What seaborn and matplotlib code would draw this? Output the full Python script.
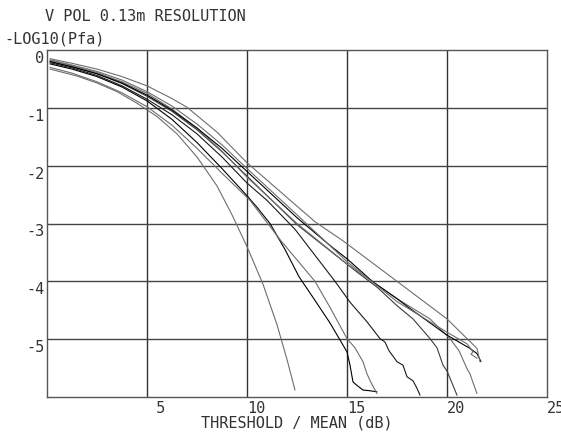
import seaborn as sns
import matplotlib
matplotlib.use('Agg')
import matplotlib.pyplot as plt
import pandas as pd

# curves: threshold/mean (dB) vs -log10(Pfa)
xa = [0.15, 1.5, 2.5, 3.5, 4.5, 5.5, 6.5, 7.5, 8.5, 9.25, 10, 10.8, 11.5, 12, 12.4]
ya = [-0.33, -0.45, -0.57, -0.72, -0.92, -1.15, -1.45, -1.85, -2.35, -2.85, -3.4,
      -4.05, -4.75, -5.35, -5.88]
xb = [0.15, 1.25, 2.5, 3.75, 5, 6.25, 7.5, 8.75, 10, 10.5, 11.15, 11.9, 12.6,
      13.4, 14.15, 15.0, 15.15, 15.3, 15.5, 15.8, 16.1, 16.5]
yb = [-0.24, -0.33, -0.46, -0.64, -0.88, -1.2, -1.6, -2.05, -2.52, -2.72, -3.0,
      -3.45, -3.92, -4.33, -4.72, -5.22, -5.45, -5.74, -5.8, -5.88, -5.89, -5.91]
xc = [0.15, 1.25, 2.5, 3.75, 5, 6.25, 7.5, 8.75, 10.15, 11.7, 13.4, 14.15, 15,
      15.4, 15.8, 16.0, 16.2, 16.5]
yc = [-0.3, -0.4, -0.55, -0.74, -0.98, -1.3, -1.7, -2.13, -2.6, -3.3, -4.0,
      -4.45, -4.99, -5.15, -5.39, -5.6, -5.75, -5.94]
xd = [0.15, 1.25, 2.5, 3.75, 5, 6.25, 7.5, 8.75, 10, 11, 12.4, 13.4, 14.4, 15.15,
      16.0, 16.65, 16.9, 17.1, 17.5, 17.8, 18.0, 18.3, 18.5, 18.65]
yd = [-0.22, -0.31, -0.44, -0.62, -0.85, -1.12, -1.45, -1.85, -2.3, -2.6, -3.1,
      -3.55, -4.0, -4.36, -4.7, -4.99, -5.05, -5.2, -5.39, -5.45, -5.65, -5.72,
      -5.85, -5.97]
xe = [0.15, 1.25, 2.5, 3.75, 5, 6.25, 7.5, 8.75, 10, 12.5, 15.5, 16.5, 17.5,
      18.3, 19.15, 19.5, 19.8, 20.0, 20.3, 20.5]
ye = [-0.2, -0.29, -0.41, -0.58, -0.8, -1.06, -1.38, -1.76, -2.18, -3.02, -3.84,
      -4.1, -4.42, -4.65, -4.99, -5.15, -5.45, -5.55, -5.8, -5.97]
xf = [0.15, 1.25, 2.5, 3.75, 5, 6.25, 7.5, 8.75, 10, 12.5, 15, 17.5, 19.15,
      20.15, 20.6, 21.0, 21.15, 21.3, 21.5]
yf = [-0.18, -0.27, -0.39, -0.55, -0.75, -1.02, -1.35, -1.75, -2.2, -3.0, -3.7,
      -4.3, -4.65, -4.99, -5.2, -5.51, -5.6, -5.75, -5.94]
xg = [0.15, 1.25, 2.5, 3.75, 5, 6.25, 7.5, 8.75, 10, 12.5, 14.15, 15, 16.3, 17.5,
      18.15, 20, 21.15, 21.5, 21.7]
yg = [-0.2, -0.29, -0.41, -0.57, -0.78, -1.04, -1.35, -1.7, -2.1, -2.9, -3.38,
      -3.61, -4.01, -4.3, -4.47, -4.93, -5.16, -5.25, -5.39]
xg2 = [0.15, 1.25, 2.5, 3.75, 5, 6.25, 7.5, 8.75, 10, 12.5, 15, 17.5, 20, 21, 21.3,
       21.2, 21.5]
yg2 = [-0.17, -0.26, -0.37, -0.52, -0.72, -0.97, -1.28, -1.64, -2.05, -2.85, -3.66,
       -4.35, -4.88, -5.08, -5.22, -5.26, -5.33]
xh = [0.15, 1.25, 2.5, 3.75, 5, 6.25, 7, 8.5, 10, 12.5, 13.4, 14.8, 17.5, 20, 21.5,
      21.65]
yh = [-0.15, -0.23, -0.33, -0.46, -0.62, -0.84, -0.99, -1.42, -1.95, -2.7, -2.97,
      -3.3, -4.0, -4.65, -5.16, -5.39]

curves = {'A': (xa, ya), 'B': (xb, yb), 'C': (xc, yc), 'D': (xd, yd),
          'E': (xe, ye), 'F': (xf, yf), 'G': (xg, yg), 'G2': (xg2, yg2),
          'H': (xh, yh)}
kolory = {'A': '#6e6e6e', 'B': '#000000', 'C': '#6e6e6e', 'D': '#1a1a1a',
          'E': '#3c3c3c', 'F': '#6e6e6e', 'G': '#000000', 'G2': '#6e6e6e',
          'H': '#6e6e6e'}

xticks = [5, 10, 15, 20, 25]
xlabels = [' 5', '10', '15', '20', '25']
yticks = [0, -1, -2, -3, -4, -5]
ylabels = ['0', '-1', '-2', '-3', '-4', '-5']

rows = []
for k, (xs, ys) in curves.items():
    for i in range(len(xs)):
        rows.append((k, i, xs[i], ys[i]))
df = pd.DataFrame(rows, columns=['curve', 'n', 'x', 'y'])

sns.set_theme(style='white')
plt.rcParams['font.family'] = ['DejaVu Sans Mono']

fig = plt.figure(figsize=(5.61, 4.39), dpi=100)
ax = fig.add_axes([47/561, 41/439, 500/561, 347/439])

ax.set_xlim(0, 25)
ax.set_ylim(-6, 0)
ax.set_xticks(xticks)
ax.set_xticklabels(xlabels)
ax.set_yticks(yticks)
ax.set_yticklabels(ylabels)
ax.tick_params(length=0, labelsize=11, colors='#333333')
ax.tick_params(axis='x', pad=2)
ax.tick_params(axis='y', pad=2)
for t in ax.get_xticklabels():
    t.set_ha('left')
for t in ax.get_yticklabels():
    t.set_va('top')

for x in xticks[:-1]:
    ax.axvline(x, color='#333333', lw=1.0, zorder=1)
for y in yticks[1:]:
    ax.axhline(y, color='#444444', lw=1.0, zorder=1)
for s in ax.spines.values():
    s.set_color('#555555')
    s.set_linewidth(1.0)

sns.lineplot(data=df, x='x', y='y', hue='curve', palette=kolory,
             units='curve', estimator=None, sort=False, legend=False,
             linewidth=0.8, ax=ax, zorder=3)
ax.set_xlabel('')
ax.set_ylabel('')

fig.text(45/561, 1 - 9/439, 'V POL 0.13m RESOLUTION', ha='left', va='top',
         fontsize=11, color='#333333')
fig.text(4/561, 1 - 31/439, '-LOG10(Pfa)', ha='left', va='top',
         fontsize=11, color='#333333')
fig.text(297/561, 1 - 416/439, 'THRESHOLD / MEAN (dB)', ha='center', va='top',
         fontsize=11, color='#333333')

fig.savefig('out.png', dpi=100)
